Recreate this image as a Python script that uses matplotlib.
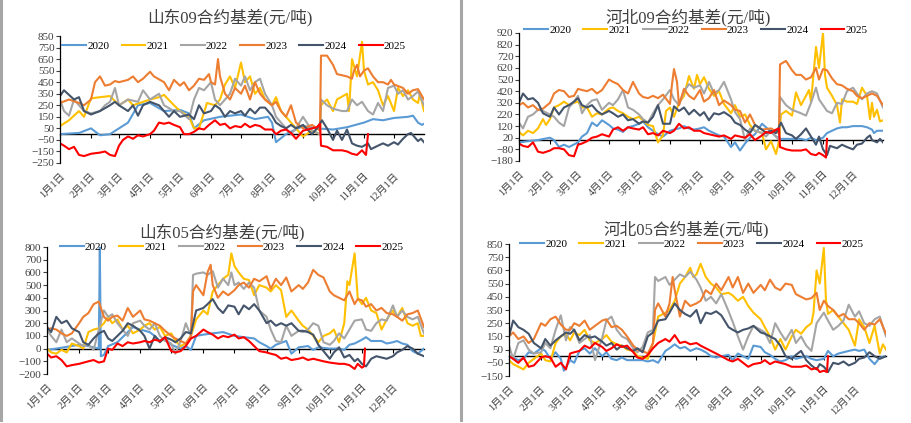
import matplotlib
matplotlib.use("Agg")
import matplotlib.pyplot as plt
import pandas as pd
from matplotlib.lines import Line2D

YEARS = ["2020", "2021", "2022", "2023", "2024", "2025"]
COLORS = ["#5B9BD5", "#FFC000", "#A5A5A5", "#ED7D31", "#44546A", "#FF0000"]
MONTH_LABELS = [f"{m}月1日" for m in range(1, 13)]

# ---- 山东09 ----
SD09_2020 = [("01-01", 0), ("01-10", 5), ("01-20", 10), ("02-01", 50), ("02-10", -10), ("02-20", 0),
             ("03-01", 50), ("03-10", 100), ("03-20", 250), ("04-01", 270), ("04-15", 200), ("05-01", 210),
             ("05-10", 180), ("05-15", 50), ("05-25", 120), ("06-10", 150), ("07-01", 170), ("07-15", 130),
             ("07-28", 150), ("08-01", 100), ("08-05", -70), ("08-15", 0), ("09-01", 70), ("09-15", 50),
             ("10-01", 40), ("10-15", 60), ("11-01", 100), ("11-10", 130), ("11-20", 120), ("12-01", 140),
             ("12-15", 150), ("12-20", 160), ("12-25", 100), ("12-29", 80), ("12-31", 90)]
SD09_2021 = [("01-01", 70), ("01-10", 120), ("01-20", 200), ("01-25", 150), ("02-01", 310), ("02-10", 320),
             ("02-20", 330), ("03-01", 250), ("03-10", 300), ("03-15", 250), ("04-01", 300), ("04-10", 320),
             ("04-15", 340), ("04-25", 250), ("05-01", 200), ("05-10", 150), ("05-15", 50), ("05-20", 50),
             ("05-28", 270), ("06-05", 250), ("06-10", 300), ("06-15", 430), ("06-20", 500), ("06-25", 400),
             ("07-01", 620), ("07-05", 450), ("07-10", 500), ("07-15", 350), ("07-20", 400), ("07-25", 300),
             ("08-01", 250), ("08-05", 320), ("08-10", 200), ("08-15", 150), ("08-20", 100), ("08-25", 50),
             ("09-01", -20), ("09-10", 30), ("09-18", 0), ("09-19", 250), ("09-25", 300), ("10-01", 200),
             ("10-05", 300), ("10-15", 350), ("10-17", 200), ("10-20", 650), ("10-25", 500), ("10-30", 800),
             ("11-01", 550), ("11-05", 430), ("11-10", 450), ("11-15", 380), ("11-20", 250), ("11-25", 330),
             ("12-01", 200), ("12-05", 400), ("12-10", 330), ("12-15", 380), ("12-20", 300), ("12-25", 270),
             ("12-27", 350), ("12-31", 200)]
SD09_2022 = [("01-01", 300), ("01-05", 200), ("01-10", 160), ("01-15", 300), ("01-25", 200), ("02-01", 180),
             ("02-10", 200), ("02-15", 250), ("02-20", 280), ("02-25", 400), ("03-01", 250), ("03-10", 300),
             ("03-20", 280), ("03-25", 380), ("04-01", 300), ("04-10", 350), ("04-15", 250), ("04-25", 200),
             ("05-01", 200), ("05-10", 130), ("05-15", 300), ("05-20", 400), ("05-25", 380), ("06-01", 450),
             ("06-05", 300), ("06-10", 250), ("06-20", 350), ("06-25", 480), ("07-01", 420), ("07-05", 500),
             ("07-10", 380), ("07-15", 450), ("07-20", 480), ("07-25", 350), ("08-01", 250), ("08-05", 150),
             ("08-10", 100), ("08-20", 0), ("08-25", 50), ("09-01", 150), ("09-10", 30), ("09-18", 0),
             ("09-19", 300), ("09-25", 250), ("10-01", 220), ("10-10", 200), ("10-15", 200), ("10-20", 300),
             ("10-25", 250), ("10-30", 280), ("11-05", 200), ("11-10", 170), ("11-15", 270), ("11-20", 200),
             ("11-25", 400), ("12-01", 420), ("12-05", 350), ("12-10", 380), ("12-15", 300), ("12-20", 330),
             ("12-25", 370), ("12-31", 250)]
SD09_2023 = [("01-01", 270), ("01-10", 300), ("01-20", 270), ("01-25", 250), ("02-01", 300), ("02-05", 450),
             ("02-10", 500), ("02-15", 420), ("02-20", 430), ("02-25", 460), ("03-01", 450), ("03-10", 470),
             ("03-15", 500), ("03-20", 450), ("03-25", 480), ("04-01", 540), ("04-05", 500), ("04-15", 450),
             ("04-20", 380), ("04-25", 470), ("05-01", 420), ("05-05", 450), ("05-10", 380), ("05-15", 420),
             ("05-20", 480), ("05-25", 470), ("05-30", 520), ("06-01", 450), ("06-05", 430), ("06-08", 650),
             ("06-10", 500), ("06-15", 350), ("06-20", 300), ("06-25", 400), ("07-01", 350), ("07-05", 420),
             ("07-10", 300), ("07-15", 450), ("07-20", 350), ("07-25", 300), ("08-01", 250), ("08-05", 280),
             ("08-10", 200), ("08-15", 150), ("08-20", 250), ("08-25", 100), ("09-01", 50), ("09-10", 80),
             ("09-18", 30), ("09-19", 680), ("09-25", 680), ("10-01", 600), ("10-05", 520), ("10-15", 500),
             ("10-20", 480), ("10-22", 550), ("10-25", 600), ("10-28", 500), ("11-01", 550), ("11-05", 570),
             ("11-10", 500), ("11-15", 450), ("11-20", 450), ("11-25", 430), ("11-28", 470), ("12-01", 430),
             ("12-10", 400), ("12-15", 350), ("12-20", 380), ("12-25", 390), ("12-31", 300)]
SD09_2024 = [("01-01", 330), ("01-05", 380), ("01-10", 340), ("01-15", 300), ("01-20", 320), ("01-25", 200),
             ("02-01", 170), ("02-10", 200), ("02-20", 250), ("02-25", 280), ("03-01", 250), ("03-10", 200),
             ("03-15", 250), ("03-20", 160), ("03-25", 250), ("04-01", 280), ("04-10", 250), ("04-15", 200),
             ("04-20", 150), ("04-25", 200), ("05-01", 150), ("05-10", 170), ("05-15", 130), ("05-20", 250),
             ("05-25", 180), ("06-01", 200), ("06-05", 250), ("06-10", 220), ("06-15", 150), ("06-20", 200),
             ("06-25", 180), ("07-01", 200), ("07-05", 160), ("07-10", 220), ("07-15", 180), ("07-20", 230),
             ("07-25", 230), ("08-01", 160), ("08-05", 100), ("08-10", 70), ("08-15", 50), ("08-20", 80),
             ("08-25", 50), ("09-01", 80), ("09-10", 0), ("09-15", 50), ("09-20", 120), ("09-25", 50),
             ("10-01", -50), ("10-05", 30), ("10-10", -50), ("10-15", 40), ("10-20", -80), ("10-25", -100),
             ("10-30", -110), ("11-05", -80), ("11-08", -130), ("11-15", -100), ("11-20", -80), ("11-25", -100),
             ("12-01", -70), ("12-05", -90), ("12-10", -40), ("12-15", 0), ("12-18", 10), ("12-22", -30),
             ("12-25", -60), ("12-28", -40), ("12-31", -70)]
SD09_2025 = [("01-01", -80), ("01-05", -100), ("01-10", -130), ("01-15", -110), ("01-20", -180), ("01-25", -190),
             ("02-01", -170), ("02-10", -160), ("02-15", -150), ("02-20", -180), ("02-25", -190), ("03-01", -100),
             ("03-05", -50), ("03-10", -20), ("03-15", -40), ("03-20", -10), ("03-25", -20), ("04-01", 0),
             ("04-05", 30), ("04-10", 100), ("04-15", 90), ("04-20", 100), ("04-25", 80), ("05-01", 60),
             ("05-05", 0), ("05-10", 0), ("05-15", 20), ("05-20", 50), ("05-25", 40), ("05-30", 80),
             ("06-05", 120), ("06-10", 80), ("06-15", 90), ("06-20", 50), ("06-25", 70), ("07-01", 60),
             ("07-05", 90), ("07-10", 60), ("07-15", 80), ("07-20", 70), ("07-25", 40), ("08-01", 40),
             ("08-05", 0), ("08-10", 30), ("08-15", 40), ("08-20", 10), ("08-25", -40), ("09-01", 30),
             ("09-10", 50), ("09-15", 60), ("09-18", 90), ("09-19", -100), ("09-25", -110), ("10-01", -140),
             ("10-10", -140), ("10-15", -150), ("10-20", -170), ("10-25", -180), ("10-30", -140), ("11-03", -180),
             ("11-05", 0)]

# ---- 河北09 ----
HB09_2020 = [("01-01", -20), ("01-10", -10), ("01-20", 0), ("02-01", 20), ("02-05", 0), ("02-10", -60),
             ("02-15", -40), ("02-20", -60), ("03-01", -20), ("03-05", 30), ("03-10", 60), ("03-15", 150),
             ("03-20", 120), ("03-25", 170), ("04-01", 130), ("04-05", 100), ("04-10", 90), ("04-15", 70),
             ("04-20", 110), ("04-25", 120), ("05-01", 140), ("05-05", 160), ("05-10", 110), ("05-15", 80),
             ("05-20", 50), ("05-25", 30), ("06-01", 80), ("06-05", 90), ("06-10", 100), ("06-15", 120),
             ("06-20", 100), ("06-25", 90), ("07-01", 100), ("07-05", 110), ("07-10", 80), ("07-15", 60),
             ("07-20", 40), ("07-25", 30), ("08-01", -60), ("08-05", -20), ("08-10", -90), ("08-15", -30),
             ("08-20", 20), ("08-25", 50), ("09-01", 140), ("09-05", 110), ("09-10", 70), ("09-15", 30),
             ("09-20", 10), ("10-01", 10), ("10-10", 10), ("10-15", 0), ("10-20", 20), ("10-25", 0),
             ("11-01", 20), ("11-05", 60), ("11-10", 80), ("11-15", 100), ("11-20", 110), ("11-25", 110),
             ("12-01", 120), ("12-10", 120), ("12-15", 110), ("12-20", 90), ("12-22", 60), ("12-25", 80),
             ("12-31", 80)]
HB09_2021 = [("01-01", 70), ("01-05", 40), ("01-10", 80), ("01-15", 60), ("01-20", 100), ("01-25", 180),
             ("01-28", 130), ("02-01", 180), ("02-05", 280), ("02-10", 300), ("02-15", 330), ("02-20", 300),
             ("02-25", 320), ("03-01", 330), ("03-05", 280), ("03-10", 280), ("03-15", 200), ("03-20", 230),
             ("03-25", 220), ("04-01", 270), ("04-05", 280), ("04-10", 250), ("04-15", 230), ("04-20", 200),
             ("04-25", 180), ("05-01", 200), ("05-05", 170), ("05-10", 130), ("05-15", 120), ("05-20", -20),
             ("05-25", 40), ("05-28", 250), ("06-01", 280), ("06-05", 200), ("06-10", 320), ("06-15", 380),
             ("06-20", 550), ("06-25", 440), ("06-28", 560), ("07-01", 480), ("07-05", 540), ("07-10", 440),
             ("07-15", 380), ("07-20", 420), ("07-25", 310), ("08-01", 230), ("08-05", 300), ("08-10", 200),
             ("08-15", 220), ("08-20", 130), ("08-25", 80), ("09-01", 60), ("09-05", -80), ("09-10", -10),
             ("09-15", -120), ("09-18", -10), ("09-20", 220), ("09-25", 250), ("10-01", 210), ("10-05", 410),
             ("10-10", 300), ("10-15", 380), ("10-18", 430), ("10-20", 330), ("10-25", 800), ("10-28", 620),
             ("11-01", 920), ("11-03", 560), ("11-05", 450), ("11-10", 380), ("11-15", 300), ("11-18", 150),
             ("11-20", 350), ("11-25", 330), ("12-01", 330), ("12-05", 310), ("12-10", 450), ("12-15", 380),
             ("12-18", 180), ("12-20", 320), ("12-22", 200), ("12-25", 260), ("12-28", 160), ("12-31", 170)]
HB09_2022 = [("01-01", 150), ("01-05", 100), ("01-10", 200), ("01-15", 220), ("01-20", 260), ("01-25", 250),
             ("02-01", 220), ("02-05", 200), ("02-10", 150), ("02-15", 120), ("02-20", 280), ("02-25", 330),
             ("03-01", 380), ("03-05", 230), ("03-10", 300), ("03-15", 340), ("03-20", 350), ("03-25", 260),
             ("04-01", 320), ("04-05", 300), ("04-10", 350), ("04-15", 430), ("04-20", 280), ("04-25", 260),
             ("05-01", 220), ("05-05", 180), ("05-10", 150), ("05-15", 230), ("05-20", 300), ("05-25", 350),
             ("06-01", 430), ("06-05", 350), ("06-10", 300), ("06-15", 420), ("06-20", 480), ("06-25", 450),
             ("07-01", 470), ("07-05", 400), ("07-10", 500), ("07-15", 400), ("07-20", 430), ("07-25", 500),
             ("08-01", 350), ("08-05", 240), ("08-10", 180), ("08-15", 0), ("08-20", 100), ("08-25", 80),
             ("09-01", 60), ("09-05", 30), ("09-10", 80), ("09-18", 0), ("09-19", 370), ("09-25", 300),
             ("10-01", 260), ("10-10", 230), ("10-15", 210), ("10-20", 320), ("10-25", 450), ("10-28", 350),
             ("11-01", 300), ("11-05", 250), ("11-10", 230), ("11-15", 320), ("11-20", 310), ("11-25", 420),
             ("12-01", 450), ("12-05", 400), ("12-10", 350), ("12-15", 400), ("12-20", 420), ("12-25", 400),
             ("12-31", 280)]
HB09_2023 = [("01-01", 300), ("01-05", 320), ("01-10", 280), ("01-15", 300), ("01-20", 260), ("01-25", 270),
             ("02-01", 320), ("02-05", 400), ("02-10", 430), ("02-15", 420), ("02-20", 370), ("02-25", 380),
             ("03-01", 440), ("03-05", 430), ("03-10", 420), ("03-15", 440), ("03-20", 400), ("03-25", 430),
             ("04-01", 520), ("04-05", 500), ("04-10", 480), ("04-15", 430), ("04-20", 400), ("04-25", 500),
             ("05-01", 400), ("05-05", 370), ("05-10", 360), ("05-15", 380), ("05-20", 360), ("05-25", 390),
             ("06-01", 310), ("06-03", 480), ("06-05", 610), ("06-08", 500), ("06-10", 300), ("06-15", 440),
             ("06-20", 380), ("06-25", 350), ("07-01", 430), ("07-05", 330), ("07-10", 360), ("07-15", 430),
             ("07-20", 300), ("07-25", 340), ("08-01", 300), ("08-05", 260), ("08-10", 250), ("08-15", 150),
             ("08-20", 220), ("08-25", 130), ("09-01", 90), ("09-10", 100), ("09-18", 60), ("09-19", 650),
             ("09-25", 680), ("10-01", 600), ("10-05", 560), ("10-10", 560), ("10-15", 520), ("10-20", 540),
             ("10-25", 620), ("10-28", 520), ("11-01", 610), ("11-05", 600), ("11-10", 530), ("11-15", 480),
             ("11-20", 470), ("11-25", 440), ("12-01", 420), ("12-05", 380), ("12-10", 360), ("12-15", 380),
             ("12-20", 400), ("12-25", 380), ("12-31", 300)]
HB09_2024 = [("01-01", 320), ("01-05", 400), ("01-10", 350), ("01-15", 360), ("01-20", 320), ("01-25", 230),
             ("02-01", 200), ("02-05", 280), ("02-10", 220), ("02-15", 280), ("02-20", 300), ("02-25", 330),
             ("03-01", 360), ("03-05", 300), ("03-10", 280), ("03-15", 300), ("03-20", 250), ("03-25", 220),
             ("04-01", 250), ("04-05", 230), ("04-10", 200), ("04-15", 220), ("04-20", 170), ("04-25", 180),
             ("05-01", 140), ("05-05", 160), ("05-10", 150), ("05-15", 200), ("05-20", 300), ("05-25", 140),
             ("06-01", 140), ("06-05", 290), ("06-10", 250), ("06-15", 280), ("06-20", 220), ("06-25", 260),
             ("07-01", 210), ("07-05", 240), ("07-10", 170), ("07-15", 230), ("07-20", 220), ("07-25", 240),
             ("08-01", 200), ("08-05", 150), ("08-10", 130), ("08-15", 90), ("08-20", 60), ("08-25", 130),
             ("09-01", 90), ("09-05", 60), ("09-10", 80), ("09-15", 60), ("09-20", 150), ("09-25", 60),
             ("10-01", 40), ("10-05", 10), ("10-10", 50), ("10-15", 100), ("10-20", 30), ("10-25", -40),
             ("10-28", 30), ("11-01", -80), ("11-05", -130), ("11-08", -50), ("11-15", -70), ("11-20", -40),
             ("11-25", -60), ("12-01", -80), ("12-05", -40), ("12-10", -30), ("12-15", 20), ("12-18", 40),
             ("12-20", 0), ("12-25", -20), ("12-28", 10), ("12-31", -20)]
HB09_2025 = [("01-01", -30), ("01-05", -50), ("01-10", -60), ("01-15", -20), ("01-20", -100), ("01-25", -110),
             ("02-01", -90), ("02-05", -70), ("02-10", -70), ("02-15", -80), ("02-20", -130), ("02-25", -140),
             ("03-01", -40), ("03-05", -30), ("03-10", -10), ("03-15", 20), ("03-20", 30), ("03-25", 50),
             ("04-01", 30), ("04-05", 90), ("04-10", 110), ("04-15", 80), ("04-20", 110), ("04-25", 100),
             ("05-01", 90), ("05-05", 110), ("05-10", 50), ("05-15", 60), ("05-20", 40), ("05-25", 80),
             ("06-01", 60), ("06-05", 80), ("06-10", 140), ("06-15", 100), ("06-20", 110), ("06-25", 80),
             ("07-01", 80), ("07-05", 60), ("07-10", 50), ("07-15", 40), ("07-20", 30), ("07-25", 40),
             ("08-01", 10), ("08-05", 40), ("08-10", 30), ("08-15", 20), ("08-20", 50), ("08-25", 0),
             ("09-01", 40), ("09-05", 70), ("09-10", 60), ("09-15", 90), ("09-18", 100), ("09-19", -60),
             ("09-25", -80), ("10-01", -90), ("10-10", -90), ("10-15", -80), ("10-20", -120), ("10-25", -130),
             ("10-28", -110), ("11-01", -130), ("11-04", -150), ("11-05", 10)]

# ---- 山东05 ----
SD05_2020 = [("01-01", -10), ("01-10", 0), ("02-01", 30), ("02-10", 20), ("02-20", 0), ("02-21", 800),
             ("02-22", -60), ("02-25", -50), ("03-01", 20), ("03-10", 50), ("03-20", 130), ("03-25", 170),
             ("04-01", 150), ("04-10", 130), ("04-15", 100), ("04-20", 60), ("04-25", 80), ("05-01", 30),
             ("05-10", 0), ("05-15", 20), ("05-20", -10), ("05-25", 100), ("06-01", 110), ("06-10", 120),
             ("06-20", 130), ("07-01", 100), ("07-10", 90), ("07-20", 80), ("07-25", 50), ("08-01", 20),
             ("08-05", 0), ("08-10", 30), ("08-20", 60), ("08-25", -40), ("09-01", 10), ("09-10", 20),
             ("09-15", -10), ("09-20", 10), ("10-01", 0), ("10-10", 0), ("10-15", -10), ("10-20", 30),
             ("10-25", 40), ("11-01", 70), ("11-05", 90), ("11-10", 60), ("11-20", 60), ("11-25", 40),
             ("12-01", 50), ("12-05", 60), ("12-10", 40), ("12-15", 30), ("12-20", -20), ("12-25", -40),
             ("12-31", 0)]
SD05_2021 = [("01-01", 0), ("01-05", -30), ("01-10", -40), ("01-15", -10), ("01-20", -30), ("01-25", 40),
             ("02-01", 20), ("02-05", 0), ("02-10", 130), ("02-15", 150), ("02-20", 160), ("02-25", 200),
             ("03-01", 250), ("03-05", 200), ("03-10", 230), ("03-15", 150), ("03-20", 180), ("03-25", 120),
             ("04-01", 150), ("04-05", 180), ("04-10", 200), ("04-15", 150), ("04-20", 170), ("04-25", 100),
             ("05-01", 120), ("05-05", 60), ("05-10", 20), ("05-15", 40), ("05-20", 100), ("05-25", 230),
             ("06-01", 300), ("06-05", 270), ("06-10", 450), ("06-15", 500), ("06-20", 550), ("06-25", 580),
             ("06-28", 750), ("07-01", 650), ("07-05", 600), ("07-10", 550), ("07-15", 540), ("07-20", 420),
             ("07-25", 500), ("08-01", 480), ("08-05", 450), ("08-10", 500), ("08-15", 460), ("08-20", 250),
             ("08-25", 300), ("09-01", 220), ("09-05", 180), ("09-10", 150), ("09-15", 100), ("09-20", 50),
             ("09-25", 100), ("10-01", 120), ("10-05", 150), ("10-10", 50), ("10-15", 200), ("10-18", 530),
             ("10-20", 500), ("10-25", 750), ("10-28", 400), ("11-01", 350), ("11-05", 400), ("11-10", 300),
             ("11-15", 280), ("11-20", 150), ("11-25", 230), ("12-01", 300), ("12-05", 250), ("12-10", 320),
             ("12-15", 200), ("12-20", 180), ("12-25", 200), ("12-28", 100), ("12-31", 100)]
SD05_2022 = [("01-01", 150), ("01-05", 100), ("01-10", 50), ("01-15", 150), ("01-20", 50), ("01-25", 80),
             ("02-01", 40), ("02-05", 20), ("02-10", 30), ("02-15", -10), ("02-20", 150), ("02-25", 300),
             ("03-01", 250), ("03-05", 270), ("03-10", 200), ("03-15", 150), ("03-20", 100), ("03-25", 200),
             ("04-01", 220), ("04-05", 180), ("04-10", 150), ("04-15", 200), ("04-20", 100), ("04-25", 60),
             ("05-01", 40), ("05-05", -40), ("05-10", 60), ("05-15", 200), ("05-20", 100), ("05-22", 580),
             ("05-25", 590), ("06-01", 600), ("06-05", 580), ("06-10", 610), ("06-15", 480), ("06-20", 550),
             ("06-25", 500), ("06-28", 600), ("07-01", 500), ("07-05", 520), ("07-10", 470), ("07-15", 520),
             ("07-20", 480), ("07-25", 300), ("08-01", 250), ("08-05", 150), ("08-10", 60), ("08-15", 50),
             ("08-20", 180), ("08-25", 100), ("09-01", 140), ("09-05", 130), ("09-10", 150), ("09-15", 200),
             ("09-20", 180), ("09-25", 50), ("10-01", 30), ("10-05", 60), ("10-10", 120), ("10-15", 80),
             ("10-20", 150), ("10-25", 220), ("11-01", 230), ("11-05", 150), ("11-10", 140), ("11-15", 200),
             ("11-20", 230), ("11-25", 220), ("12-01", 340), ("12-05", 250), ("12-10", 300), ("12-15", 250),
             ("12-20", 230), ("12-25", 250), ("12-31", 120)]
SD05_2023 = [("01-01", 150), ("01-05", 160), ("01-10", 150), ("01-15", 120), ("01-20", 100), ("01-25", 120),
             ("02-01", 200), ("02-05", 250), ("02-10", 280), ("02-15", 350), ("02-20", 370), ("02-25", 250),
             ("03-01", 220), ("03-05", 250), ("03-10", 260), ("03-15", 220), ("03-20", 320), ("03-25", 250),
             ("04-01", 300), ("04-05", 230), ("04-10", 220), ("04-15", 200), ("04-20", 180), ("04-25", 140),
             ("05-01", 100), ("05-05", 80), ("05-10", 60), ("05-15", 40), ("05-20", 100), ("05-22", 450),
             ("05-25", 500), ("06-01", 420), ("06-05", 600), ("06-08", 660), ("06-10", 500), ("06-15", 400),
             ("06-20", 450), ("06-25", 420), ("07-01", 460), ("07-05", 500), ("07-10", 520), ("07-15", 480),
             ("07-20", 550), ("07-25", 530), ("08-01", 570), ("08-05", 470), ("08-10", 550), ("08-15", 500),
             ("08-20", 560), ("08-25", 450), ("09-01", 500), ("09-05", 470), ("09-10", 520), ("09-15", 620),
             ("09-20", 580), ("09-25", 560), ("10-01", 450), ("10-05", 420), ("10-10", 400), ("10-15", 380),
             ("10-20", 450), ("10-25", 350), ("10-28", 390), ("11-01", 380), ("11-05", 330), ("11-10", 350),
             ("11-15", 300), ("11-20", 320), ("11-25", 280), ("12-01", 270), ("12-05", 250), ("12-10", 220),
             ("12-15", 270), ("12-20", 280), ("12-25", 300), ("12-31", 170)]
SD05_2024 = [("01-01", 170), ("01-05", 130), ("01-10", 250), ("01-15", 200), ("01-20", 220), ("01-25", 160),
             ("02-01", 130), ("02-05", 50), ("02-10", 30), ("02-15", 80), ("02-20", 120), ("02-25", 140),
             ("03-01", 80), ("03-05", 60), ("03-10", 100), ("03-15", 140), ("03-20", 200), ("03-25", 180),
             ("04-01", 140), ("04-05", 100), ("04-10", 0), ("04-15", 100), ("04-20", 50), ("04-25", 90),
             ("05-01", 70), ("05-05", 50), ("05-10", 80), ("05-15", 130), ("05-20", 120), ("05-25", 300),
             ("06-01", 320), ("06-05", 350), ("06-10", 390), ("06-15", 320), ("06-20", 280), ("06-25", 340),
             ("07-01", 330), ("07-05", 270), ("07-10", 340), ("07-15", 310), ("07-20", 350), ("07-25", 300),
             ("08-01", 200), ("08-05", 220), ("08-10", 180), ("08-15", 200), ("08-20", 180), ("08-25", 200),
             ("09-01", 140), ("09-05", 140), ("09-10", 130), ("09-15", 110), ("09-20", 30), ("09-25", -20),
             ("10-01", -80), ("10-05", -30), ("10-10", 10), ("10-15", -70), ("10-20", -50), ("10-25", -100),
             ("10-28", -80), ("11-01", -120), ("11-05", -140), ("11-10", -80), ("11-15", -60), ("11-20", -70),
             ("11-25", -80), ("12-01", -60), ("12-05", -30), ("12-10", -10), ("12-15", 20), ("12-20", 0),
             ("12-25", -40), ("12-31", -60)]
SD05_2025 = [("01-01", -40), ("01-05", -70), ("01-10", -60), ("01-15", -90), ("01-20", -140), ("01-25", -130),
             ("02-01", -120), ("02-10", -100), ("02-15", -90), ("02-20", -110), ("02-25", -100), ("03-01", 0),
             ("03-05", -10), ("03-10", 40), ("03-15", 20), ("03-20", 50), ("03-25", 40), ("04-01", 50),
             ("04-05", 60), ("04-10", 50), ("04-15", 70), ("04-20", 60), ("04-25", 90), ("05-01", -20),
             ("05-05", -30), ("05-10", -20), ("05-15", 20), ("05-20", 80), ("05-25", 100), ("06-01", 150),
             ("06-05", 130), ("06-10", 110), ("06-15", 80), ("06-20", 100), ("06-25", 90), ("07-01", 110),
             ("07-05", 80), ("07-10", 90), ("07-15", 60), ("07-20", 20), ("07-25", -20), ("08-01", -30),
             ("08-05", -40), ("08-10", -50), ("08-15", -80), ("08-20", -70), ("08-25", -90), ("09-01", -80),
             ("09-05", -70), ("09-10", -90), ("09-15", -80), ("09-20", -90), ("09-25", -100), ("10-01", -110),
             ("10-10", -120), ("10-15", -120), ("10-20", -130), ("10-25", -160), ("10-28", -120), ("11-01", -150),
             ("11-03", -140), ("11-04", 0)]

# ---- 河北05 ----
HB05_2020 = [("01-01", 0), ("01-05", -10), ("01-10", -30), ("01-15", -20), ("01-20", 30), ("01-25", 20),
             ("02-01", 60), ("02-05", 40), ("02-10", -20), ("02-15", 30), ("02-20", -20), ("02-23", -110),
             ("03-01", -30), ("03-05", -50), ("03-10", 40), ("03-15", 60), ("03-20", 20), ("03-25", 60),
             ("04-01", 0), ("04-05", 30), ("04-10", -20), ("04-15", -30), ("04-20", -10), ("04-25", -30),
             ("05-01", -30), ("05-10", -30), ("05-15", -40), ("05-20", -30), ("05-25", -50), ("06-01", 40),
             ("06-05", 60), ("06-10", 90), ("06-15", 60), ("06-20", 70), ("06-25", 40), ("07-01", 60),
             ("07-05", 50), ("07-10", 30), ("07-15", 0), ("07-20", -10), ("07-25", 0), ("08-01", 10),
             ("08-05", -30), ("08-10", 20), ("08-15", 0), ("08-20", -20), ("08-25", 80), ("09-01", 70),
             ("09-05", 30), ("09-10", 10), ("09-15", -20), ("09-20", -40), ("09-25", -30), ("10-01", 0),
             ("10-05", -20), ("10-10", -10), ("10-15", 0), ("10-20", -20), ("10-25", -30), ("11-01", -20),
             ("11-05", 40), ("11-10", 0), ("11-15", 20), ("11-20", 30), ("11-25", 40), ("12-01", 50),
             ("12-05", 40), ("12-10", 50), ("12-15", -20), ("12-20", -60), ("12-25", -10), ("12-31", 0)]
HB05_2021 = [("01-01", -30), ("01-05", -60), ("01-10", -80), ("01-15", -100), ("01-20", -50), ("01-25", -20),
             ("02-01", 20), ("02-05", -30), ("02-10", -40), ("02-15", 100), ("02-20", 150), ("02-25", 170),
             ("03-01", 120), ("03-05", 180), ("03-10", 160), ("03-15", 200), ("03-20", 120), ("03-25", 100),
             ("04-01", 130), ("04-05", 160), ("04-10", 110), ("04-15", 90), ("04-20", 80), ("04-25", 50),
             ("05-01", 40), ("05-05", 0), ("05-10", -10), ("05-15", -20), ("05-20", 100), ("05-25", 300),
             ("06-01", 330), ("06-05", 350), ("06-10", 420), ("06-15", 550), ("06-20", 600), ("06-25", 670),
             ("06-28", 600), ("07-01", 620), ("07-05", 700), ("07-10", 600), ("07-15", 550), ("07-20", 520),
             ("07-25", 470), ("08-01", 480), ("08-05", 460), ("08-10", 420), ("08-15", 450), ("08-20", 380),
             ("08-25", 330), ("09-01", 280), ("09-05", 220), ("09-10", 150), ("09-15", 50), ("09-20", 130),
             ("09-25", 50), ("10-01", 150), ("10-05", 200), ("10-10", 170), ("10-15", 220), ("10-20", 250),
             ("10-22", 330), ("10-25", 650), ("10-28", 550), ("11-01", 820), ("11-03", 430), ("11-05", 320),
             ("11-10", 350), ("11-15", 300), ("11-20", 250), ("11-25", 200), ("12-01", 80), ("12-05", 280),
             ("12-10", 220), ("12-15", 100), ("12-20", 230), ("12-25", 20), ("12-28", 90), ("12-31", 50)]
HB05_2022 = [("01-01", 80), ("01-05", -20), ("01-10", 100), ("01-15", 120), ("01-20", 50), ("01-25", 20),
             ("02-01", 30), ("02-05", 100), ("02-10", 60), ("02-15", 200), ("02-20", 310), ("02-25", 120),
             ("03-01", 220), ("03-05", 200), ("03-10", 100), ("03-15", 130), ("03-20", 160), ("03-25", -30),
             ("04-01", 140), ("04-05", 270), ("04-10", 300), ("04-15", 200), ("04-20", 150), ("04-25", 130),
             ("05-01", 60), ("05-05", 30), ("05-10", 70), ("05-15", 180), ("05-20", 200), ("05-22", 600),
             ("05-25", 570), ("06-01", 600), ("06-05", 540), ("06-10", 580), ("06-15", 620), ("06-20", 600),
             ("06-25", 640), ("07-01", 580), ("07-05", 520), ("07-10", 420), ("07-15", 450), ("07-20", 400),
             ("07-25", 470), ("08-01", 340), ("08-05", 260), ("08-10", 150), ("08-15", 50), ("08-20", 150),
             ("08-25", 230), ("09-01", 200), ("09-05", 180), ("09-10", 100), ("09-15", 250), ("09-20", 180),
             ("09-25", 120), ("10-01", 200), ("10-05", 100), ("10-10", 150), ("10-15", 80), ("10-20", 40),
             ("10-25", 250), ("11-01", 330), ("11-05", 270), ("11-10", 200), ("11-15", 230), ("11-20", 270),
             ("11-25", 390), ("12-01", 300), ("12-05", 340), ("12-10", 250), ("12-15", 230), ("12-20", 280),
             ("12-25", 300), ("12-31", 150)]
HB05_2023 = [("01-01", 150), ("01-05", 180), ("01-10", 130), ("01-15", 150), ("01-20", 100), ("01-25", 130),
             ("02-01", 250), ("02-05", 230), ("02-10", 280), ("02-15", 300), ("02-20", 240), ("02-25", 200),
             ("03-01", 200), ("03-05", 250), ("03-10", 230), ("03-15", 270), ("03-20", 200), ("03-25", 230),
             ("04-01", 270), ("04-05", 280), ("04-10", 220), ("04-15", 230), ("04-20", 200), ("04-25", 150),
             ("05-01", 80), ("05-05", 50), ("05-10", 40), ("05-15", 20), ("05-20", 100), ("05-22", 350),
             ("05-25", 400), ("06-01", 300), ("06-05", 400), ("06-08", 600), ("06-10", 500), ("06-15", 300),
             ("06-20", 420), ("06-25", 380), ("07-01", 400), ("07-05", 420), ("07-10", 500), ("07-15", 470),
             ("07-20", 550), ("07-25", 500), ("08-01", 600), ("08-05", 520), ("08-10", 600), ("08-15", 480),
             ("08-20", 550), ("08-25", 480), ("09-01", 540), ("09-05", 500), ("09-10", 580), ("09-15", 520),
             ("09-20", 500), ("09-25", 550), ("10-01", 540), ("10-05", 470), ("10-10", 450), ("10-15", 430),
             ("10-20", 440), ("10-25", 480), ("10-28", 350), ("11-01", 420), ("11-05", 380), ("11-10", 350),
             ("11-15", 300), ("11-20", 320), ("11-25", 280), ("12-01", 280), ("12-05", 250), ("12-10", 200),
             ("12-15", 250), ("12-20", 240), ("12-25", 280), ("12-31", 170)]
HB05_2024 = [("01-01", 150), ("01-05", 270), ("01-10", 220), ("01-15", 200), ("01-20", 170), ("01-25", 100),
             ("02-01", 60), ("02-05", 130), ("02-10", 80), ("02-15", 120), ("02-20", 150), ("02-25", 180),
             ("03-01", 170), ("03-05", 200), ("03-10", 120), ("03-15", 160), ("03-20", 140), ("03-25", 150),
             ("04-01", 110), ("04-05", 80), ("04-10", 100), ("04-15", 50), ("04-20", 80), ("04-25", 60),
             ("05-01", 40), ("05-05", 60), ("05-10", 30), ("05-15", 150), ("05-20", 180), ("05-25", 270),
             ("06-01", 280), ("06-05", 330), ("06-10", 400), ("06-15", 350), ("06-20", 320), ("06-25", 300),
             ("07-01", 350), ("07-05", 250), ("07-10", 330), ("07-15", 320), ("07-20", 340), ("07-25", 310),
             ("08-01", 220), ("08-05", 200), ("08-10", 180), ("08-15", 200), ("08-20", 210), ("08-25", 230),
             ("09-01", 180), ("09-05", 170), ("09-10", 150), ("09-15", 130), ("09-20", 80), ("09-25", 0),
             ("10-01", -20), ("10-05", 10), ("10-10", 40), ("10-15", -30), ("10-20", -70), ("10-25", -100),
             ("10-28", -60), ("11-01", -80), ("11-05", -120), ("11-10", -50), ("11-15", -60), ("11-20", -40),
             ("11-25", -70), ("12-01", -50), ("12-05", -20), ("12-10", -10), ("12-15", 30), ("12-20", 0),
             ("12-25", -20), ("12-31", 0)]
HB05_2025 = [("01-01", 0), ("01-05", -20), ("01-10", -50), ("01-15", -10), ("01-20", -80), ("01-25", -70),
             ("02-01", -10), ("02-05", 0), ("02-10", -10), ("02-15", -80), ("02-20", -50), ("02-25", -100),
             ("03-01", 20), ("03-05", 30), ("03-10", 40), ("03-15", 80), ("03-20", 60), ("03-25", 100),
             ("04-01", 70), ("04-05", 40), ("04-10", 60), ("04-15", 90), ("04-20", 70), ("04-25", 80),
             ("05-01", 30), ("05-05", -10), ("05-10", -20), ("05-15", 10), ("05-20", 60), ("05-25", 100),
             ("06-01", 130), ("06-05", 110), ("06-10", 160), ("06-15", 100), ("06-20", 110), ("06-25", 90),
             ("07-01", 100), ("07-05", 80), ("07-10", 60), ("07-15", 40), ("07-20", 20), ("07-25", 0),
             ("08-01", -30), ("08-05", -40), ("08-10", -20), ("08-15", -50), ("08-20", -80), ("08-25", -60),
             ("09-01", -50), ("09-05", -30), ("09-10", -60), ("09-15", -40), ("09-20", -50), ("09-25", -60),
             ("10-01", -80), ("10-10", -80), ("10-15", -70), ("10-20", -100), ("10-25", -90), ("10-28", -120),
             ("11-01", -110), ("11-04", -120), ("11-05", 0)]

SERIF_CJK = ["Liberation Serif", "Noto Sans CJK SC"]
plt.rcParams["font.family"] = SERIF_CJK


def _dates(md_list):
    return pd.to_datetime(["2021-" + md for md in md_list])


def _panel(fig, rect, title, title_xy, series, yticks, leg_anchor):
    ax = fig.add_axes(rect)
    for year, color, data in zip(YEARS, COLORS, series):
        x = _dates([d for d, _ in data])
        y = [v for _, v in data]
        ax.plot(x, y, color=color, lw=1.5, label=year, solid_joinstyle="round")

    month_ticks = _dates([f"{m:02d}-01" for m in range(1, 13)])
    ax.set_xlim(_dates(["01-01"])[0], _dates(["12-31"])[0])
    ax.set_ylim(yticks[0], yticks[-1])
    ax.set_yticks(yticks)
    ax.tick_params(axis="y", labelsize=8, colors="#404040", length=3, width=0.8,
                   direction="out", pad=1)
    ax.set_xticks(month_ticks)
    ax.set_xticklabels(MONTH_LABELS, rotation=45, ha="right", va="top",
                       rotation_mode="anchor", fontsize=7.5, color="#404040")
    ax.tick_params(axis="x", length=0, pad=6)
    for s in ("top", "right", "bottom"):
        ax.spines[s].set_visible(False)
    ax.spines["left"].set_color("black")
    ax.spines["left"].set_linewidth(0.9)

    # zero line acting as the category axis, with small month ticks
    zero_frac = (0 - yticks[0]) / (yticks[-1] - yticks[0])
    zax = ax.secondary_xaxis(zero_frac)
    zax.set_xticks(month_ticks)
    zax.set_xticklabels([])
    zax.tick_params(axis="x", direction="out", length=3, width=0.8, color="black")
    zax.spines["bottom"].set_color("black")
    zax.spines["bottom"].set_linewidth(1)

    ax.legend(loc="center", bbox_to_anchor=leg_anchor, ncol=6, frameon=False,
              fontsize=8, handlelength=2.15, handletextpad=0.1, columnspacing=1.1,
              borderaxespad=0, borderpad=0)
    fig.text(title_xy[0] / 912, 1 - title_xy[1] / 423, title, ha="center", va="center",
             fontsize=12, color="#404040")
    return ax


fig = plt.figure(figsize=(9.12, 4.23), dpi=100)

_panel(fig, [60 / 912, 1 - 163 / 423, 364 / 912, 127 / 423], "山东09合约基差(元/吨)", (230, 17),
       [SD09_2020, SD09_2021, SD09_2022, SD09_2023, SD09_2024, SD09_2025],
       list(range(-250, 851, 100)), (0.478, 0.921))
_panel(fig, [519 / 912, 1 - 161 / 423, 364 / 912, 128 / 423], "河北09合约基差(元/吨)", (688, 17),
       [HB09_2020, HB09_2021, HB09_2022, HB09_2023, HB09_2024, HB09_2025],
       list(range(-180, 921, 100)), (0.486, 1.023))
_panel(fig, [47 / 912, 1 - 374 / 423, 377 / 912, 127 / 423], "山东05合约基差(元/吨)", (222, 232),
       [SD05_2020, SD05_2021, SD05_2022, SD05_2023, SD05_2024, SD05_2025],
       list(range(-200, 801, 100)), (0.49, 1.0))
_panel(fig, [509 / 912, 1 - 376 / 423, 377 / 912, 132 / 423], "河北05合约基差(元/吨)", (686, 229),
       [HB05_2020, HB05_2021, HB05_2022, HB05_2023, HB05_2024, HB05_2025],
       list(range(-150, 851, 100)), (0.485, 1.0))

# panel borders
for xpix in (1.5, 461):
    fig.add_artist(Line2D([xpix / 912] * 2, [1, 3 / 423], transform=fig.transFigure,
                          color="#A6A6A6", lw=2.2))

fig.savefig("out.png", dpi=100)
